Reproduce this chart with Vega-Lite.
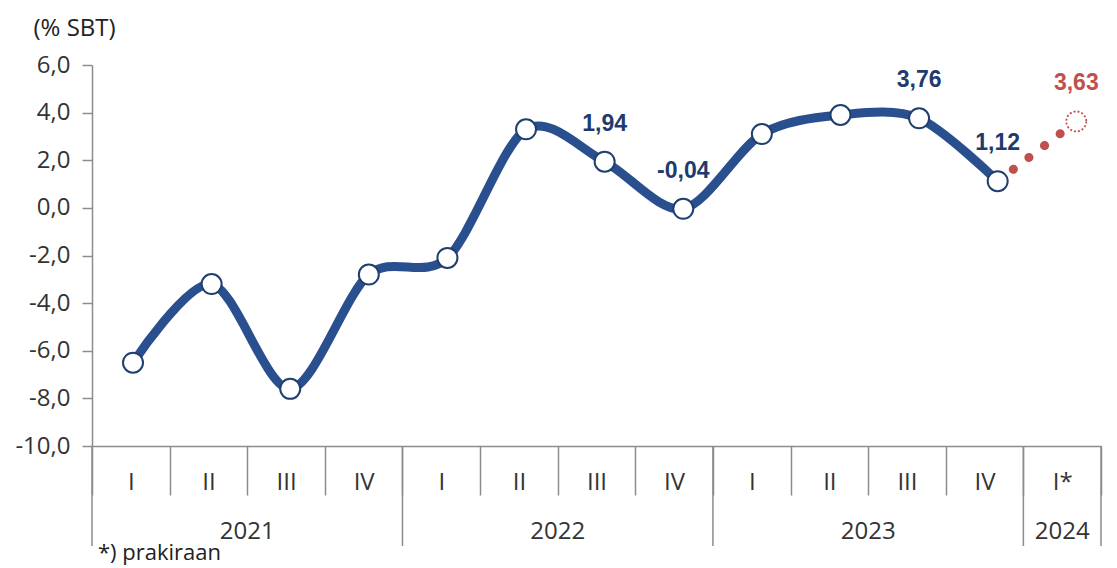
{
  "$schema": "https://vega.github.io/schema/vega-lite/v6.json",
  "width": 1009,
  "height": 381,
  "autosize": {"type": "none"},
  "padding": {"left": 92, "top": 65, "right": 16, "bottom": 122},
  "config": {"view": {"stroke": null}, "font": "Open Sans"},
  "datasets": {
    "series": [
      {"period": "2021-I", "value": -6.5},
      {"period": "2021-II", "value": -3.2},
      {"period": "2021-III", "value": -7.6},
      {"period": "2021-IV", "value": -2.8},
      {"period": "2022-I", "value": -2.1},
      {"period": "2022-II", "value": 3.3},
      {"period": "2022-III", "value": 1.94},
      {"period": "2022-IV", "value": -0.04},
      {"period": "2023-I", "value": 3.1},
      {"period": "2023-II", "value": 3.9},
      {"period": "2023-III", "value": 3.76},
      {"period": "2023-IV", "value": 1.12}
    ],
    "forecast": [
      {"period": "2023-IV", "value": 1.12},
      {"period": "2024-I*", "value": 3.63}
    ],
    "labels": [
      {"period": "2022-III", "value": 1.94, "text": "1,94"},
      {"period": "2022-IV", "value": -0.04, "text": "-0,04"},
      {"period": "2023-III", "value": 3.76, "text": "3,76"},
      {"period": "2023-IV", "value": 1.12, "text": "1,12"},
      {"period": "2024-I*", "value": 3.63, "text": "3,63"}
    ],
    "years": [
      {"year": "2021", "anchor": "2021-III"},
      {"year": "2022", "anchor": "2022-III"},
      {"year": "2023", "anchor": "2023-III"}
    ],
    "lastyear": [{"year": "2024", "anchor": "2024-I*"}],
    "dividers": [
      {"period": "2021-I"},
      {"period": "2022-I"},
      {"period": "2023-I"},
      {"period": "2024-I*"}
    ],
    "note": [{"period": "2021-I", "note": "*) prakiraan"}]
  },
  "resolve": {"scale": {"x": "independent"}, "axis": {"x": "independent"}},
  "layer": [
    {
      "layer": [
        {
          "data": {"name": "dividers"},
          "mark": {"type": "rule", "stroke": "#8c8c8c", "strokeWidth": 1.5},
          "encoding": {
            "x": {
              "field": "period", "type": "nominal", "bandPosition": 0,
              "scale": {"type": "band", "paddingInner": 0, "paddingOuter": 0,
                "domain": ["2021-I","2021-II","2021-III","2021-IV","2022-I","2022-II","2022-III","2022-IV","2023-I","2023-II","2023-III","2023-IV","2024-I*"]},
              "axis": {
                "orient": "bottom", "title": null, "tickBand": "extent", "tickSize": 49,
                "domainColor": "#8c8c8c", "tickColor": "#8c8c8c", "domainWidth": 1.5, "tickWidth": 1.5,
                "labelExpr": "split(datum.label, '-')[1]", "labelFontSize": 24, "labelColor": "#333333",
                "labelPadding": -25, "labelAngle": 0, "labelOverlap": false, "labelFlush": false, "grid": false
              }
            },
            "y": {"datum": -10, "type": "quantitative"},
            "y2": {"datum": -14.2}
          }
        },
        {
          "data": {"name": "lastyear"},
          "mark": {"type": "rule", "stroke": "#8c8c8c", "strokeWidth": 1.5},
          "encoding": {
            "x": {"field": "anchor", "type": "nominal", "bandPosition": 1},
            "y": {"datum": -10, "type": "quantitative"},
            "y2": {"datum": -14.2}
          }
        },
        {
          "data": {"name": "years"},
          "mark": {"type": "text", "fontSize": 24, "color": "#333333", "baseline": "middle", "align": "center"},
          "encoding": {
            "x": {"field": "anchor", "type": "nominal", "bandPosition": 0},
            "y": {"datum": -13.6, "type": "quantitative"},
            "text": {"field": "year"}
          }
        },
        {
          "data": {"name": "lastyear"},
          "mark": {"type": "text", "fontSize": 24, "color": "#333333", "baseline": "middle", "align": "center"},
          "encoding": {
            "x": {"field": "anchor", "type": "nominal", "bandPosition": 0.5},
            "y": {"datum": -13.6, "type": "quantitative"},
            "text": {"field": "year"}
          }
        },
        {
          "data": {"name": "note"},
          "mark": {"type": "text", "fontSize": 22, "color": "#222222", "baseline": "middle", "align": "left", "dx": 6},
          "encoding": {
            "x": {"field": "period", "type": "nominal", "bandPosition": 0},
            "y": {"datum": -14.5, "type": "quantitative"},
            "text": {"field": "note"}
          }
        }
      ]
    },
    {
      "layer": [
        {
          "data": {"name": "series"},
          "mark": {"type": "line", "interpolate": "cardinal", "tension": 0.1, "strokeWidth": 9, "color": "#2A4F8E", "strokeCap": "round"},
          "encoding": {
            "x": {
              "field": "period", "type": "nominal",
              "scale": {"type": "point", "padding": 0.418, "align": 0.624,
                "domain": ["2021-I","2021-II","2021-III","2021-IV","2022-I","2022-II","2022-III","2022-IV","2023-I","2023-II","2023-III","2023-IV","2024-I*"]},
              "axis": null
            },
            "y": {
              "field": "value", "type": "quantitative",
              "scale": {"domain": [-10, 6], "nice": false, "zero": false},
              "axis": {
                "values": [-10, -8, -6, -4, -2, 0, 2, 4, 6],
                "labelExpr": "(datum.value < 0 ? '-' : '') + replace(format(abs(datum.value), '.1f'), '.', ',')",
                "grid": false, "domainColor": "#8c8c8c", "tickColor": "#8c8c8c", "domainWidth": 1.5, "tickWidth": 1.5,
                "tickSize": 10, "labelPadding": 12, "labelFontSize": 24, "labelColor": "#333333",
                "title": "(% SBT)", "titleAngle": 0, "titleX": -59, "titleY": -37, "titleAlign": "left",
                "titleBaseline": "middle", "titleFontSize": 24, "titleFontWeight": "normal", "titleColor": "#222222"
              }
            }
          }
        },
        {
          "data": {"name": "forecast"},
          "mark": {"type": "line", "strokeWidth": 9, "color": "#C0504D", "strokeCap": "round", "strokeDash": [0.1, 19.5]},
          "encoding": {
            "x": {"field": "period", "type": "nominal"},
            "y": {"field": "value", "type": "quantitative"}
          }
        },
        {
          "data": {"name": "series"},
          "mark": {"type": "point", "shape": "circle", "size": 400, "filled": true, "fill": "white", "stroke": "#1F3F6E", "strokeWidth": 2, "opacity": 1},
          "encoding": {
            "x": {"field": "period", "type": "nominal"},
            "y": {"field": "value", "type": "quantitative"}
          }
        },
        {
          "data": {"name": "forecast"},
          "transform": [{"filter": "datum.period === '2024-I*'"}],
          "mark": {"type": "point", "shape": "circle", "size": 400, "filled": true, "fill": "white", "stroke": "#C0504D", "strokeWidth": 1.8, "strokeDash": [2, 2], "opacity": 1},
          "encoding": {
            "x": {"field": "period", "type": "nominal"},
            "y": {"field": "value", "type": "quantitative"}
          }
        },
        {
          "data": {"name": "labels"},
          "mark": {"type": "text", "font": "Liberation Sans", "fontWeight": "bold", "fontSize": 23, "dy": -38, "baseline": "middle", "align": "center"},
          "encoding": {
            "x": {"field": "period", "type": "nominal"},
            "y": {"field": "value", "type": "quantitative"},
            "text": {"field": "text"},
            "color": {"condition": {"test": "datum.period === '2024-I*'", "value": "#C0504D"}, "value": "#1F3A6E"}
          }
        }
      ]
    }
  ]
}
